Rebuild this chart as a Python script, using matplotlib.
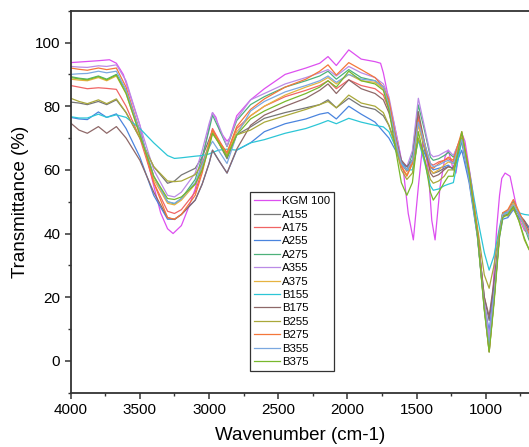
import numpy as np
import matplotlib.pyplot as plt
from matplotlib.ticker import MultipleLocator

plt.rcParams['font.family'] = ['Liberation Sans', 'DejaVu Sans']

# wavenumber grid (cm-1) for the KGM 100 spectrum
wn_kgm = [4000, 3900, 3800, 3720, 3670, 3620, 3560, 3500, 3450, 3400, 3350, 3300, 3260,
          3200, 3150, 3100, 3050, 3000, 2975, 2950, 2920, 2870, 2850, 2800, 2700, 2600,
          2450, 2300, 2200, 2140, 2080, 1990, 1900, 1800, 1760, 1740, 1700, 1660, 1632,
          1596, 1560, 1523, 1487, 1451, 1415, 1390, 1366, 1330, 1294, 1270, 1240, 1215,
          1173, 1150, 1100, 1050, 1010, 985, 975, 960, 940, 920, 900, 884, 860, 824, 800,
          788, 752, 720, 687]
kgm100 = [93.7, 94, 94.3, 94.6, 93.5, 90, 82, 74, 64, 55, 46.5, 41.5, 40,
          42.5, 48, 54, 63, 73.5, 78, 76.5, 72, 69, 70, 77, 82, 85.5,
          90, 92, 93.5, 95.6, 92.8, 97.7, 94.8, 94, 93.5, 90.5, 82, 74, 68.3,
          60, 46.3, 38, 54.7, 69.9, 59.9, 44.2, 38, 54.7, 64.1, 66.2, 61, 59,
          71.5, 69, 55, 37, 18, 9, 6.5, 12, 28, 42, 52, 57.3, 59, 58, 53,
          50.5, 44, 41, 40]

# common wavenumber grid for the other samples
wn = [4000, 3940, 3880, 3800, 3740, 3670,
      3600, 3500, 3400, 3300, 3250, 3200, 3100, 3050, 3000, 2975, 2930, 2870, 2800,
      2700, 2600, 2450, 2300, 2200, 2140, 2080, 1990, 1900,
      1800, 1740, 1700, 1650, 1610, 1570, 1530, 1487, 1440, 1400, 1379, 1340, 1300, 1270, 1234,
      1173, 1120, 1060, 1010, 975, 940, 900, 877, 840, 800, 760, 720, 687]

a155 = [81.3, 81, 80.5, 81.5, 80.5, 82,
        78, 70, 61, 55.8, 56.5, 58.4, 60.5, 64, 69.5, 72.5, 68.5, 63.5, 71,
        73.5, 76.2, 78, 79.5, 80.5, 82, 79.5, 82.5, 80,
        79, 77, 74, 68, 63, 60, 62, 74.6, 66, 60, 58.9, 59.5, 60.5, 61, 60.5,
        68.9, 57, 40, 20, 12.7, 24, 40, 45.5, 46, 48.5, 46, 44, 42]
a175 = [86.5, 86, 85.5, 85.8, 85.6, 85.3,
        80, 70, 56, 47, 46.3, 47.5, 53, 60, 68.5, 73, 69.5, 65, 73,
        77, 80, 83, 85, 86.5, 88, 85.5, 88.3, 86.5,
        85.5, 83.5, 79, 69, 62, 59.5, 63, 76.7, 68, 62, 61.5, 62.5, 63, 63.5, 62.5,
        70, 58, 40, 17, 4.5, 20, 40.5, 46, 47, 50, 46.5, 43, 40]
a255 = [76.5, 76, 75.8, 78.2, 76.5, 77.6,
        73, 64, 52, 44.5, 44.5, 46, 50.5, 55.5, 62, 66.2, 63, 59, 66.2,
        68.5, 72, 74.5, 76, 77.5, 78, 76, 80, 77.5,
        75, 72, 70, 66, 62, 61, 63, 69.4, 65, 61, 60, 60.5, 61, 61.5, 60,
        66.2, 56, 39, 18, 9.5, 22, 39, 44.5, 45, 47.5, 45, 43, 42]
a275 = [89.3, 88.8, 88.5, 89.5, 88.5, 90,
        85, 72, 58, 50, 49.3, 51, 57, 64, 72.5, 77.2, 73, 67.3, 75.5,
        80.5, 83, 86, 88, 89.5, 91, 88.5, 91.5, 89,
        88, 86, 81, 71, 62, 60, 65, 80.4, 72, 64, 63, 63.5, 64.5, 65.5, 64,
        71, 59, 40, 16, 2.8, 19, 40, 46.5, 47, 50, 46.5, 42, 38]
a355 = [92.5, 92.3, 92.2, 92.7, 92.5, 93,
        88, 74, 60, 52, 51.5, 53, 59, 66, 74.5, 78, 74, 67.5, 76,
        82, 84, 87, 89, 90.5, 91.5, 89.5, 92.5, 90.5,
        89, 87, 83, 72, 63, 61, 66, 82.5, 73, 65, 64.1, 64.5, 65.5, 66.2, 64.5,
        70.5, 58, 40, 19, 7.5, 21, 40, 46, 47, 49.5, 46, 43, 40]
a375 = [88.5, 88.2, 88, 89, 88, 89.5,
        84, 71, 57, 49.5, 49, 50.5, 55.5, 61, 68.5, 72, 69, 64.5, 72,
        77, 80, 83.5, 86, 87.5, 89, 87, 90, 88,
        87.5, 85.5, 80, 69, 61, 58.5, 62, 74, 67, 60, 59, 60, 61.5, 62.5, 62,
        70.5, 58.5, 40, 16.5, 3.5, 19, 40, 46, 46.5, 49.5, 46, 42, 39]
b155 = [76.7, 76.3, 76.3, 77.5, 76.5, 77.3,
        76.5, 73, 68.5, 64.5, 63.6, 63.8, 64.3, 64.5, 65, 65.5, 66.2, 66.5, 66.2,
        68.5, 69.5, 71.5, 73, 74.5, 75.5, 74.5, 76.2, 75,
        74, 73.5, 72, 67, 62, 60, 60, 69.4, 62, 55, 53.6, 54, 55, 55.5, 56,
        69, 60, 45, 34, 28.5, 33, 42, 46.5, 46.5, 48, 46.5, 46, 45.8]
b175 = [74.7, 72.5, 71.5, 73.6, 71.5, 73.6,
        70, 63, 53, 45, 44.4, 46, 50.5, 55.5, 62, 66.2, 63, 59, 66.5,
        74, 77.2, 80, 82.5, 85, 87, 84, 88.3, 85.5,
        84, 82, 78, 70, 63, 61, 63, 78.3, 68, 59, 57.8, 58.5, 60, 61, 60.5,
        69.5, 57.5, 40, 20, 14, 25, 40, 45.5, 46, 48.5, 46, 44, 41]
b255 = [82.5, 81.5, 80.8, 82, 80.8, 82.3,
        78, 70, 61, 56.5, 56.3, 56.5, 58.5, 62, 67.5, 71.5, 68.5, 64.5, 71,
        72.5, 75, 77, 79, 80.5, 81.5, 79.5, 83.5, 81,
        80, 78, 74, 67, 60, 57, 59, 70, 63, 57, 55.8, 56.5, 58, 60, 60,
        70, 58.5, 42, 27, 22.8, 30, 41, 46, 45.5, 48, 44, 38, 35]
b275 = [92, 91.6, 91.3, 92, 91.5, 92,
        86, 72, 56, 45, 44.5, 46, 52, 59, 68, 72.5, 69, 65.5, 73.6,
        79, 82.3, 86, 88.5, 91, 93, 89.8, 93.7, 91.5,
        89, 86, 82, 70, 61, 58, 62, 75.7, 68, 61, 60.5, 62, 63, 64, 63,
        72, 60, 41, 17, 2.8, 19, 40, 46.5, 47.5, 50.7, 47, 43, 40]
b355 = [90, 90.2, 90.3, 91, 90.5, 91,
        85, 72, 58, 50, 49.5, 51, 56, 61.5, 67, 69, 66, 62, 71,
        78.5, 81.5, 84.5, 86.5, 88, 89.5, 87.5, 90, 88.5,
        88, 86, 80, 69, 62, 60, 63, 75, 68, 62, 61, 61.5, 62.5, 63, 62,
        69.5, 57, 39, 17, 5, 20, 40, 46, 46.5, 49, 46, 42.5, 39]
b375 = [89, 88.6, 88.3, 89.3, 88.3, 89.8,
        84, 71, 58, 51, 50.7, 51.5, 55.5, 60, 67, 71.5, 68.5, 64, 71,
        76, 78.5, 81.5, 84, 86, 88, 86, 91, 88,
        87, 85, 79, 66, 56, 52, 56, 72, 63, 53, 50.5, 53, 56, 58, 58,
        72, 59, 39.5, 16, 2.8, 18, 39, 45, 46, 48.5, 44, 38.5, 35]

labels = ['A155', 'A175', 'A255', 'A275', 'A355', 'A375',
          'B155', 'B175', 'B255', 'B275', 'B355', 'B375']
series = [a155, a175, a255, a275, a355, a375, b155, b175, b255, b275, b355, b375]
colors = ['#767676', '#F06464', '#4A84DE', '#4DB17A', '#BA8BE6', '#E6B340',
          '#2CC6D6', '#8E6868', '#A9A83A', '#F4773A', '#7BA8E0', '#78B82C']

fig = plt.figure(figsize=(5.29, 4.47), dpi=100)
ax = fig.add_axes([0.1337, 0.1215, 0.8663, 0.8545])

ax.plot(wn_kgm, kgm100, color='#DD4FF0', lw=0.9, label='KGM 100')
for y, lab, c in zip(series, labels, colors):
    ax.plot(wn, y, color=c, lw=0.9, label=lab)

ax.set_xlim(4000, 687)
ax.set_ylim(-10, 110)
ax.xaxis.set_major_locator(MultipleLocator(500))
ax.xaxis.set_minor_locator(MultipleLocator(250))
ax.yaxis.set_major_locator(MultipleLocator(20))
ax.yaxis.set_minor_locator(MultipleLocator(10))
ax.set_yticks([0, 20, 40, 60, 80, 100])

ax.spines['right'].set_visible(False)
for s in ['left', 'bottom', 'top']:
    ax.spines[s].set_linewidth(1.3)
    ax.spines[s].set_color('#333333')
ax.tick_params(which='major', direction='out', length=4, width=1.1,
               labelsize=11, color='#333333', top=False, right=False)
ax.tick_params(which='minor', direction='out', length=2.5, width=1.0,
               color='#333333', top=False, right=False)

ax.set_xlabel('Wavenumber (cm-1)', fontsize=13.5, labelpad=7)
ax.set_ylabel('Transmittance (%)', fontsize=13.5, labelpad=4)

leg = ax.legend(loc='upper left', bbox_to_anchor=(0.391, 0.525), fontsize=8.2,
                frameon=True, fancybox=False, edgecolor='#333333', framealpha=1,
                handlelength=2.3, handletextpad=0.2, labelspacing=0.3,
                borderpad=0.35, borderaxespad=0)
leg.get_frame().set_linewidth(0.9)

fig.savefig('out.png', dpi=100)
